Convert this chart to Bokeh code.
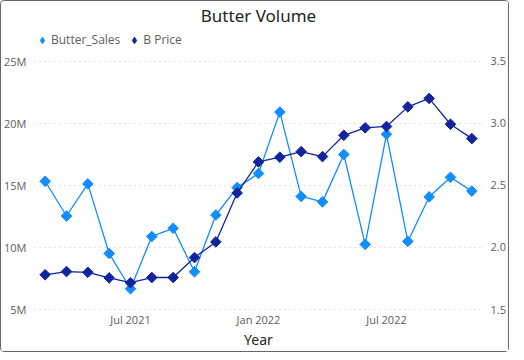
from bokeh.plotting import figure
from bokeh.models import (ColumnDataSource, LinearAxis, Range1d, FixedTicker,
                          Legend, LegendItem)
from bokeh.embed import file_html
from bokeh.resources import INLINE
import math

months = ["Mar 2021", "Apr 2021", "May 2021", "Jun 2021", "Jul 2021", "Aug 2021",
          "Sep 2021", "Oct 2021", "Nov 2021", "Dec 2021", "Jan 2022", "Feb 2022",
          "Mar 2022", "Apr 2022", "May 2022", "Jun 2022", "Jul 2022", "Aug 2022",
          "Sep 2022", "Oct 2022", "Nov 2022"]
butter_sales = [15.34e6, 12.54e6, 15.13e6, 9.52e6, 6.67e6, 10.89e6, 11.55e6, 8.04e6,
                12.62e6, 14.83e6, 15.97e6, 20.92e6, 14.12e6, 13.68e6, 17.5e6, 10.25e6,
                19.13e6, 10.49e6, 14.08e6, 15.66e6, 14.55e6]
b_price = [1.78, 1.806, 1.80, 1.755, 1.716, 1.758, 1.758, 1.919, 2.045, 2.44, 2.69,
           2.728, 2.773, 2.733, 2.905, 2.965, 2.976, 3.134, 3.202, 2.994, 2.878]
left_ticks = [5e6, 10e6, 15e6, 20e6, 25e6]
left_labels = ["5M", "10M", "15M", "20M", "25M"]
right_ticks = [1.5, 2.0, 2.5, 3.0, 3.5]
right_labels = ["1.5", "2.0", "2.5", "3.0", "3.5"]
x_tick_months = ["Jul 2021", "Jan 2022", "Jul 2022"]

x = list(range(len(months)))
src = ColumnDataSource(dict(x=x, sales=butter_sales, price=b_price, month=months))

LIGHT = "#118DFF"
DARK = "#12239E"
FONT = "Open Sans"
FH = 284
FW = 448

p = figure(frame_width=FW, frame_height=FH, output_backend="svg", toolbar_location=None,
           x_range=Range1d(-0.5, len(months) - 0.5),
           y_range=Range1d(4.919e6, 27.823e6),
           min_border_left=4, min_border_right=2, min_border_top=0, min_border_bottom=0)
p.extra_y_ranges = {"price": Range1d(1.492, 3.782)}

p.title.text = "Butter Volume"
p.title.align = "center"
p.title.text_font = "Noto Sans"
p.title.text_font_size = "17px"
p.title.text_font_style = "normal"
p.title.text_color = "#252423"
p.title.standoff = 0
p.title.offset = 0

p.outline_line_color = None
p.styles = {"border": "1px solid #666", "border-radius": "4px"}

r1l = p.line("x", "sales", source=src, color=LIGHT, line_width=1.3)
r1s = p.scatter("x", "sales", source=src, marker="square", angle=math.pi / 4,
                size=7.5, color=LIGHT)
r2l = p.line("x", "price", source=src, color=DARK, line_width=1.3, y_range_name="price")
r2s = p.scatter("x", "price", source=src, marker="square", angle=math.pi / 4,
                size=7.5, color=DARK, y_range_name="price")

# hidden renderers used only for the legend's diamond glyphs
lg1 = p.scatter("x", "sales", source=src, marker="diamond", color=LIGHT, visible=False)
lg2 = p.scatter("x", "price", source=src, marker="diamond", color=DARK,
                y_range_name="price", visible=False)

# axes
p.yaxis.ticker = FixedTicker(ticks=left_ticks)
p.yaxis.major_label_overrides = {t: l for t, l in zip(left_ticks, left_labels)}
right = LinearAxis(y_range_name="price", ticker=FixedTicker(ticks=right_ticks))
right.major_label_overrides = {t: l for t, l in zip(right_ticks, right_labels)}
p.add_layout(right, "right")

xt = [months.index(m) for m in x_tick_months]
p.xaxis.ticker = FixedTicker(ticks=xt)
p.xaxis.major_label_overrides = {i: m for i, m in zip(xt, x_tick_months)}
p.xaxis.axis_label = "Year"
p.xaxis.axis_label_text_font = "Noto Sans"
p.xaxis.axis_label_text_font_size = "14px"
p.xaxis.axis_label_text_font_style = "normal"
p.xaxis.axis_label_text_color = "#252423"
p.xaxis.axis_label_standoff = 0

for ax in [p.xaxis[0], p.yaxis[0], right]:
    ax.axis_line_color = None
    ax.major_tick_line_color = None
    ax.minor_tick_line_color = None
    ax.major_tick_out = 0
    ax.major_tick_in = 0
    ax.major_label_text_font = FONT
    ax.major_label_text_font_size = "11px"
    ax.major_label_text_color = "#605E5C"
    ax.major_label_standoff = 8
p.xaxis.major_label_standoff = 1

p.xgrid.grid_line_color = None
p.ygrid.grid_line_color = "#C8C8C8"
p.ygrid.grid_line_dash = "1 4"
p.ygrid.grid_line_width = 1

legend = Legend(items=[LegendItem(label="Butter_Sales", renderers=[lg1]),
                       LegendItem(label="B Price", renderers=[lg2])],
                orientation="horizontal", location=(0, FH - 22))
legend.label_text_font = FONT
legend.label_text_font_size = "12px"
legend.label_text_color = "#605E5C"
legend.glyph_width = 16
legend.glyph_height = 16
legend.label_standoff = 1
legend.spacing = 6
legend.padding = 0
legend.margin = 0
legend.border_line_color = None
legend.background_fill_alpha = 0
legend.inactive_fill_alpha = 0
legend.click_policy = "none"
p.add_layout(legend)

open("out.html", "w").write(file_html(p, INLINE))
